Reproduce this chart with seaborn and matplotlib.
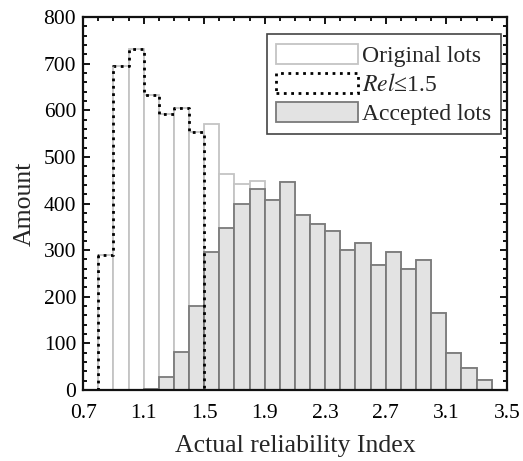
import pandas as pd
import seaborn as sns
import matplotlib.pyplot as plt
from matplotlib.patches import Patch
from matplotlib.ticker import MultipleLocator

# bin edges 0.8 .. 3.4, width 0.1
edges = [round(0.8 + 0.1 * i, 2) for i in range(27)]
centers = [round(e + 0.05, 3) for e in edges[:-1]]

original_lots = [290, 695, 732, 632, 592, 604, 554, 571, 463, 442, 448,
                 408, 446, 376, 356, 341, 301, 316, 269, 295, 260, 279,
                 166, 79, 48, 21]
accepted_lots = [0, 0, 0, 3, 28, 81, 180, 297, 347, 400, 432,
                 408, 446, 376, 356, 341, 301, 316, 269, 295, 260, 279,
                 166, 79, 48, 21]

df = pd.DataFrame({'rel': centers, 'original': original_lots,
                   'accepted': accepted_lots})
df_rel = df[df['rel'] < 1.5]
rel_edges = [e for e in edges if e <= 1.51]

sns.set_style("ticks")
plt.rcParams['font.family'] = ['Liberation Serif', 'DejaVu Serif']
plt.rcParams['mathtext.fontset'] = 'stix'

fig = plt.figure(figsize=(5.23, 4.61), dpi=100)
ax = fig.add_axes([0.159, 0.154, 0.81, 0.809])

sns.histplot(data=df, x='rel', weights='original', bins=edges, ax=ax,
             color='white', edgecolor='#c4c4c4', linewidth=1.3, alpha=1)
sns.histplot(data=df, x='rel', weights='accepted', bins=edges, ax=ax,
             color='#e3e3e3', edgecolor='#7a7a7a', linewidth=1.3, alpha=1)
sns.histplot(data=df_rel, x='rel', weights='original', bins=rel_edges, ax=ax,
             element='step', fill=True, color='black', facecolor='none',
             edgecolor='black', linestyle=':', linewidth=2, alpha=1)

ax.set_xlim(0.7, 3.5)
ax.set_ylim(0, 800)
ax.set_xticks([0.7, 1.1, 1.5, 1.9, 2.3, 2.7, 3.1, 3.5])
ax.set_yticks(range(0, 801, 100))
ax.xaxis.set_minor_locator(MultipleLocator(0.1))
ax.yaxis.set_minor_locator(MultipleLocator(20))
ax.tick_params(which='both', direction='in', top=True, right=True,
               labelsize=15.5, width=1.3, colors='black')
ax.tick_params(which='major', length=5)
ax.tick_params(which='minor', length=3)
ax.tick_params(axis='x', pad=10)
ax.tick_params(axis='y', pad=5)
for s in ax.spines.values():
    s.set_linewidth(1.6)
    s.set_color('#111111')

ax.set_xlabel('Actual reliability Index', fontsize=18.5, labelpad=9)
ax.set_ylabel('Amount', fontsize=18.5, labelpad=6)

handles = [Patch(facecolor='white', edgecolor='#c4c4c4', linewidth=1.3),
           Patch(facecolor='none', edgecolor='black', linestyle=':', linewidth=2),
           Patch(facecolor='#e3e3e3', edgecolor='#7a7a7a', linewidth=1.3)]
labels = ['Original lots', '$\\mathit{Rel}$≤1.5', 'Accepted lots']
leg = ax.legend(handles, labels, loc='upper right',
                bbox_to_anchor=(0.986, 0.954), borderaxespad=0,
                fontsize=17, fancybox=False, framealpha=1, edgecolor='#444444',
                handlelength=3.45, handleheight=0.93, borderpad=0.4,
                labelspacing=0.25, handletextpad=0.2)
leg.get_frame().set_linewidth(1.2)

plt.savefig('out.png', dpi=100)
